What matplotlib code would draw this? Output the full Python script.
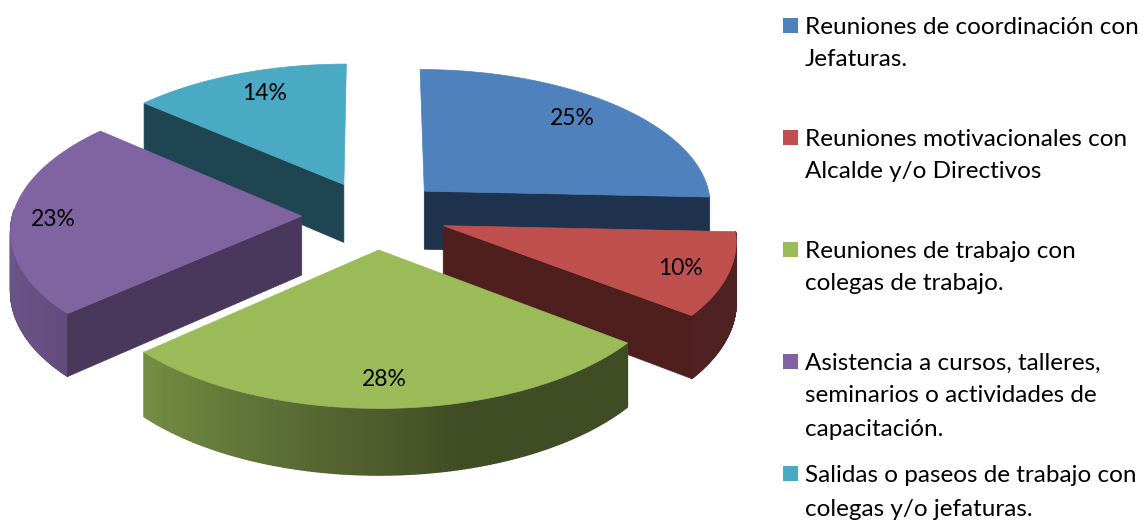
import numpy as np
import matplotlib
matplotlib.use("Agg")
import matplotlib.pyplot as plt
from matplotlib.patches import Polygon, Rectangle

# --- data -------------------------------------------------------------
values = [25, 10, 28, 23, 14]
labels = ["25%", "10%", "28%", "23%", "14%"]
legend_lines = [
    ["Reuniones de coordinación con", "Jefaturas."],
    ["Reuniones motivacionales con", "Alcalde y/o Directivos"],
    ["Reuniones de trabajo con", "colegas de trabajo."],
    ["Asistencia a cursos, talleres,", "seminarios o actividades de", "capacitación."],
    ["Salidas o paseos de trabajo con", "colegas y/o jefaturas."],
]
top_colors = ["#4f81bd", "#c0504d", "#9bbb59", "#8064a2", "#4aa9c3"]
face_colors = ["#1f334e", "#4f1f1e", "#3f4b23", "#4a375c", "#1f4452"]

# --- geometry of the tilted pie (pixel space) --------------------------
CX, CY, RX, RY, K, DEPTH, EXPLODE = 374, 215, 289, 137, 0.092, 59, 0.25
ROT = np.radians(2.5)
LABEL_R = [0.80, 0.85, 0.82, 0.85, 0.82]
LABEL_SHIFT = [(-3, -1), (-6, 5), (-11, 2), (-2, 0), (11, 0)]
LEGEND_LINE_STEP = [32, 32, 33, 33, 35]


def project(u, v, z=0.0):
    s = 1.0 / (1.0 + K * v)
    return CX + RX * u * s, CY - RY * v * s + z * DEPTH * s


def pts(u, v, z=0.0):
    x, y = project(np.asarray(u, float), np.asarray(v, float), z)
    return np.column_stack([x, y])


def warp(a):
    return a + ROT * np.sin(a) ** 2


fig = plt.figure(figsize=(11.45, 5.21), dpi=100)
ax = fig.add_axes([0, 0, 1, 1])
ax.set_xlim(0, 1145)
ax.set_ylim(521, 0)
ax.axis("off")

fracs = np.array(values, float) / sum(values)
edges = np.concatenate([[0], np.cumsum(fracs)]) * 2 * np.pi


def slice_geometry(i):
    a0, a1 = edges[i], edges[i + 1]
    mid = (a0 + a1) / 2
    ou, ov = EXPLODE * np.sin(mid), EXPLODE * np.cos(mid)
    return a0, a1, mid, ou, ov


def shade(color, f):
    rgb = np.array(matplotlib.colors.to_rgb(color))
    return tuple(rgb * f)


for i in [4, 0, 3, 1, 2]:
    a0, a1, mid, ou, ov = slice_geometry(i)
    raw = np.linspace(a0, a1, 160)
    th = warp(raw)
    ru, rv = ou + np.sin(th), ov + np.cos(th)

    # outer wall: strips facing the viewer
    for r0, r1, t0, t1 in zip(raw[:-1], raw[1:], th[:-1], th[1:]):
        rm = (r0 + r1) / 2
        if not (np.pi / 2 <= rm <= 3 * np.pi / 2):
            continue
        deg = np.degrees(rm)
        f = np.interp(deg, [90, 165, 235, 270], [0.41, 0.41, 0.80, 0.85])
        uu = [ou + np.sin(t0), ou + np.sin(t1)]
        vv = [ov + np.cos(t0), ov + np.cos(t1)]
        quad = np.vstack([pts(uu, vv, 0), pts(uu[::-1], vv[::-1], 1)])
        ax.add_patch(Polygon(quad, closed=True, fc=shade(top_colors[i], f),
                             ec=shade(top_colors[i], f), lw=1.0, joinstyle="round"))

    # radial faces that look towards the viewer
    for ang, visible in [(warp(a0), np.sin(a0) < -1e-6), (warp(a1), np.sin(a1) > 1e-6)]:
        if visible:
            uu, vv = [ou, ou + np.sin(ang)], [ov, ov + np.cos(ang)]
            face = np.vstack([pts(uu, vv, 0), pts(uu[::-1], vv[::-1], 1)])
            ax.add_patch(Polygon(face, closed=True, fc=face_colors[i], ec=face_colors[i], lw=0.5))

    # top face
    top = np.vstack([pts([ou], [ov]), pts(ru, rv)])
    ax.add_patch(Polygon(top, closed=True, fc=top_colors[i], ec=top_colors[i], lw=0.5))

FONT = "Lato"
for i, lab in enumerate(labels):
    a0, a1, mid, ou, ov = slice_geometry(i)
    r = LABEL_R[i]
    x, y = project(ou + r * np.sin(mid), ov + r * np.cos(mid))
    ax.text(x + LABEL_SHIFT[i][0], y + LABEL_SHIFT[i][1], lab, ha="center", va="center",
            fontsize=16.5, family=FONT, color="black")

# legend
entry_y = [27, 139, 251, 363, 475]
for color, lines, y0, step in zip(top_colors, legend_lines, entry_y, LEGEND_LINE_STEP):
    ax.add_patch(Rectangle((783, y0 - 9), 15, 15, fc=color, ec="none"))
    for j, line in enumerate(lines):
        ax.text(805, y0 + j * step, line, ha="left", va="center", fontsize=17.5,
                family=FONT, color="black")

fig.savefig("out.png", dpi=100)
